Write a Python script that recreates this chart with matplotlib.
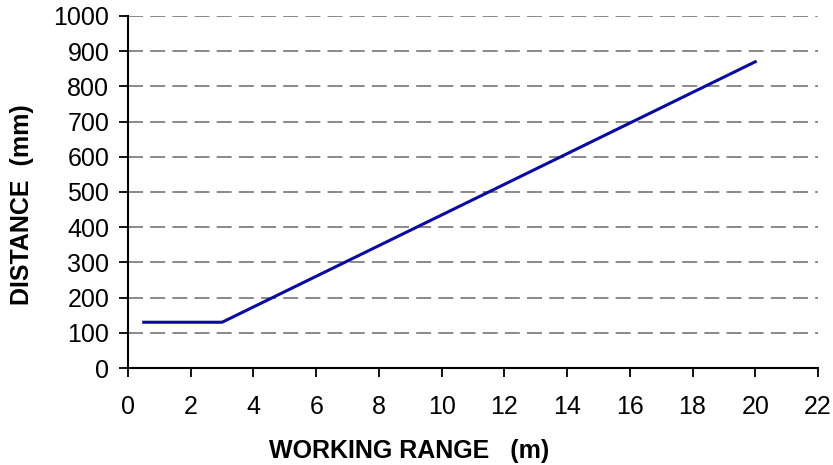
import matplotlib
matplotlib.use("Agg")
import matplotlib.pyplot as plt

# working range (m) vs distance (mm)
rango = [0.5, 3, 20]
distancia = [130, 130, 870]

x_ticks = list(range(0, 23, 2))
y_ticks = list(range(0, 1001, 100))

plt.rcParams['font.family'] = ['Liberation Sans', 'DejaVu Sans']

fig = plt.figure(figsize=(8.33, 4.65), dpi=100)
ax = fig.add_axes([0.1537, 0.2086, 0.8283, 0.757])

for y in y_ticks[1:]:
    ax.axhline(y, color='#767676', lw=1.2, dashes=(9, 4.3), zorder=1)

ax.plot(rango, distancia, color='#0a0aa0', lw=2.2, zorder=3)

ax.set_xlim(0, 22)
ax.set_ylim(0, 1000)
ax.set_xticks(x_ticks)
ax.set_yticks(y_ticks)
ax.tick_params(axis='both', labelsize=18, length=6.5, width=1.3, direction='out')
ax.tick_params(axis='x', pad=13)
ax.tick_params(axis='y', pad=7)

for lado in ['top', 'right']:
    ax.spines[lado].set_visible(False)
for lado in ['left', 'bottom']:
    ax.spines[lado].set_linewidth(1.5)

# titulos de ejes (no centrados en el eje, como en el original)
fig.text(0.491, 0.030, "WORKING RANGE   (m)", fontsize=18, fontweight='bold',
         ha='center', va='center')
fig.text(0.027, 0.559, "DISTANCE  (mm)", fontsize=18, fontweight='bold',
         ha='center', va='center', rotation=90)

fig.savefig("out.png", dpi=100)
